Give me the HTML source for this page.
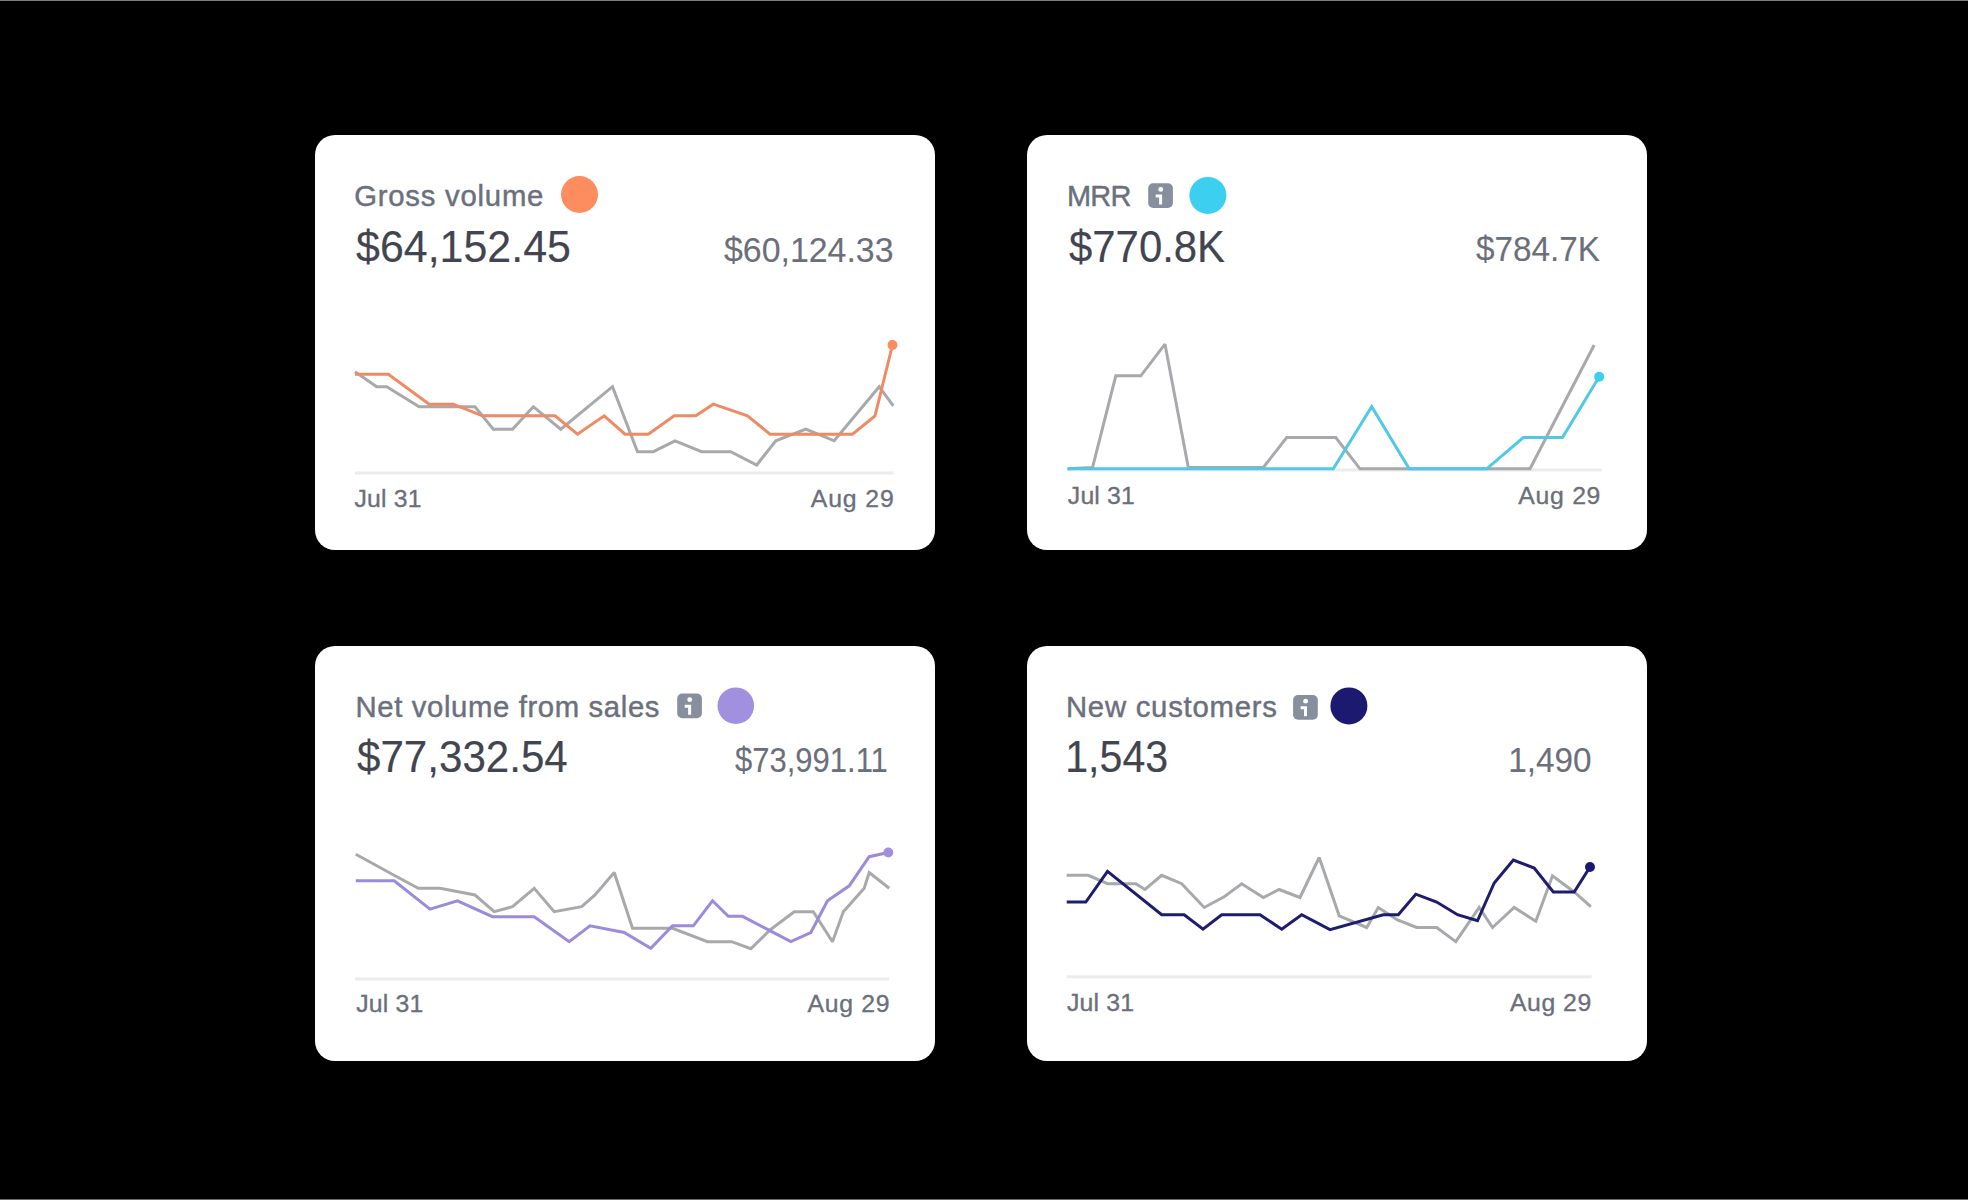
<!DOCTYPE html>
<html><head><meta charset="utf-8"><title>Dashboard charts</title>
<style>
html,body{margin:0;padding:0;}
body{width:1969px;height:1200px;background:#000;position:relative;overflow:hidden;font-family:"Liberation Sans", sans-serif;}
.edge-t{position:absolute;left:0;top:0;width:1969px;height:1px;background:#7c7c7c;}
.edge-b{position:absolute;left:0;top:1199px;width:1969px;height:1px;background:#6a6a6a;}
.edge-r{position:absolute;left:1968px;top:0;width:1px;height:1200px;background:#ffffff;}
.card{position:absolute;width:620px;height:415px;background:#fff;border-radius:20px;}
.t{position:absolute;white-space:nowrap;line-height:1;font-family:"Liberation Sans", sans-serif;-webkit-text-stroke:0.45px currentColor;}
.big{-webkit-text-stroke:0.15px currentColor;}
.sec{-webkit-text-stroke:0.1px currentColor;}
.lab{-webkit-text-stroke:0.35px currentColor;}
svg{position:absolute;left:0;top:0;}
</style></head>
<body>
<div class="edge-t"></div><div class="edge-b"></div><div class="edge-r"></div>
<div class="card" style="left:315px;top:135px"></div><div class="card" style="left:1027px;top:135px"></div><div class="card" style="left:315px;top:646px"></div><div class="card" style="left:1027px;top:646px"></div>
<svg width="1969" height="1200" viewBox="0 0 1969 1200">
<line x1="355" y1="473" x2="893.5" y2="473" stroke="#ebecec" stroke-width="3" stroke-linecap="butt"/>
<line x1="1067.5" y1="470" x2="1601.7" y2="470" stroke="#ebecec" stroke-width="3" stroke-linecap="butt"/>
<line x1="355" y1="979" x2="889" y2="979" stroke="#ebecec" stroke-width="3" stroke-linecap="butt"/>
<line x1="1066.7" y1="976.7" x2="1591.7" y2="976.7" stroke="#ebecec" stroke-width="3" stroke-linecap="butt"/>
<polyline points="355,371.7 376.7,386.7 386.7,386.7 419.2,406.7 475,406.7 493.3,429.2 512.5,429.2 533.3,406.7 560.8,429.2 612.5,386.7 637.5,451.7 653.3,451.7 675,440.8 701.7,451.7 730.8,451.7 756.7,465 775.8,440.8 805.8,429.2 834.2,440.8 879.2,386.7 893.3,405.8" fill="none" stroke="#a7a9ac" stroke-width="3" stroke-linejoin="miter" stroke-miterlimit="2"/>
<polyline points="355,374.2 388.3,374.2 429.2,404.2 453.3,404.2 482.5,415.8 555,415.8 577.5,434.2 604.2,415.8 625,434.2 648.3,434.2 674.2,415.8 695.8,415.8 713.3,404.2 747.5,415.8 770,434.2 852.5,434.2 875,415.8 892.5,345" fill="none" stroke="#ee8b64" stroke-width="3" stroke-linejoin="miter" stroke-miterlimit="2"/>
<circle cx="892.5" cy="345" r="5" fill="#fd8c5e"/>
<polyline points="1067.5,468.8 1092.5,467.5 1115.8,375.8 1140.8,375.8 1165,344.2 1188.3,467.5 1263.3,467.5 1286.7,437.5 1335.8,437.5 1360,468.8 1530,468.8 1594.2,345" fill="none" stroke="#a7a9ac" stroke-width="3" stroke-linejoin="miter" stroke-miterlimit="2"/>
<polyline points="1067.5,468.8 1333.3,468.8 1371.7,406.7 1409.2,468.8 1486.7,468.8 1523.3,437.5 1562.5,437.5 1599.2,376.7" fill="none" stroke="#50c8e6" stroke-width="3" stroke-linejoin="miter" stroke-miterlimit="2"/>
<circle cx="1599.2" cy="376.7" r="5" fill="#3dcff0"/>
<polyline points="355.8,854.2 395,875.8 418.3,888.3 440,888.3 475,895 494.2,911.7 512.5,906.7 534.2,888.3 554.2,911.7 581.7,906.7 595,895 614.2,872.5 632.5,928.3 672.5,928.3 707.5,941.7 731.7,941.7 750.8,948.7 770,930 794.2,911.7 813.3,911.7 832.5,941.7 843.3,911.7 864.2,888.3 869.2,872.5 889.2,888.3" fill="none" stroke="#a7a9ac" stroke-width="3" stroke-linejoin="miter" stroke-miterlimit="2"/>
<polyline points="355.8,880.8 394.2,880.8 430,909.2 457.5,900.8 492.5,916.7 534.2,916.7 569.2,941.7 590,925.8 624.2,932.5 650.8,948.3 672.5,925.8 693.3,925.8 712.5,900.8 728.3,916.3 742.5,916.3 790.8,941.7 810.8,932.5 827.5,900.8 849.2,885.8 869.2,856.7 888.3,852.5" fill="none" stroke="#9c8bdb" stroke-width="3" stroke-linejoin="miter" stroke-miterlimit="2"/>
<circle cx="888.3" cy="852.5" r="5" fill="#a190e0"/>
<polyline points="1066.7,875.3 1088.3,875.3 1107.5,883.7 1135.8,883.7 1145,889.5 1161.7,875.3 1181.7,883.7 1204.2,907.5 1224.2,896.7 1241.7,883.7 1263.3,897.5 1279.2,889.5 1300,897.5 1319.2,857.5 1339.2,915.8 1366.7,927.5 1378.3,907.5 1397.5,920 1416.7,927.5 1436.7,927.5 1455.8,941.7 1479.2,907.5 1492.5,927.5 1514.2,907.5 1535.8,921.3 1552.5,875.8 1574.2,892 1590.8,906.7" fill="none" stroke="#a7a9ac" stroke-width="3" stroke-linejoin="miter" stroke-miterlimit="2"/>
<polyline points="1066.7,902 1085.8,902 1107.5,871.3 1161.7,914.7 1184.2,914.7 1203,929.2 1221.7,914.7 1260,914.7 1281.7,929.2 1301.7,914.7 1330,929.7 1383.3,914.7 1398.3,914.7 1415.8,894.2 1436.7,902 1457.5,914.7 1477.5,920.8 1494.2,883 1513.3,860 1534.2,868 1553.3,892 1574.2,892 1590,867" fill="none" stroke="#1e1c6e" stroke-width="3" stroke-linejoin="miter" stroke-miterlimit="2"/>
<circle cx="1590" cy="867" r="5" fill="#1c1a70"/>
<circle cx="579.5" cy="194.5" r="18.5" fill="#fd8c5e"/>
<circle cx="1207.9" cy="195.4" r="18.5" fill="#3dcff0"/>
<circle cx="735.8" cy="705.7" r="18.3" fill="#a190e0"/>
<circle cx="1348.9" cy="705.9" r="18.5" fill="#1c1a70"/>
<g transform="translate(1148.2,183.2)"><rect x="0" y="0" width="24.7" height="24.7" rx="5" fill="#878f9e"/><circle cx="12.5" cy="6.2" r="2.4" fill="#fff"/><path d="M7.5 11.3H13.9V21.2H10.9V14.2H7.5Z" fill="#fff"/></g>
<g transform="translate(677.2,693.5)"><rect x="0" y="0" width="24.7" height="24.7" rx="5" fill="#878f9e"/><circle cx="12.5" cy="6.2" r="2.4" fill="#fff"/><path d="M7.5 11.3H13.9V21.2H10.9V14.2H7.5Z" fill="#fff"/></g>
<g transform="translate(1293.1,695)"><rect x="0" y="0" width="24.7" height="24.7" rx="5" fill="#878f9e"/><circle cx="12.5" cy="6.2" r="2.4" fill="#fff"/><path d="M7.5 11.3H13.9V21.2H10.9V14.2H7.5Z" fill="#fff"/></g>
</svg>
<div class="t" style="left:354.14px;top:181.10px;font-size:29.3px;letter-spacing:0.777px;color:#6b707c;">Gross volume</div>
<div class="t big" style="left:355.96px;top:225.08px;font-size:44.2px;letter-spacing:0.000px;color:#42454f;transform:scaleX(0.9717);transform-origin:0.44px 0;">$64,152.45</div>
<div class="t sec" style="left:724.04px;top:233.15px;font-size:35.5px;letter-spacing:0.000px;color:#6b6f7a;transform:scaleX(0.9538);transform-origin:0.35px 0;">$60,124.33</div>
<div class="t lab" style="left:354.50px;top:487.11px;font-size:24.8px;letter-spacing:0.184px;color:#6b6f7a;">Jul 31</div>
<div class="t lab" style="left:810.80px;top:487.01px;font-size:24.8px;letter-spacing:0.865px;color:#6b6f7a;">Aug 29</div>
<div class="t" style="left:1066.86px;top:181.30px;font-size:29.3px;letter-spacing:-0.800px;color:#6b707c;transform:scaleX(0.9885);transform-origin:2.34px 0;">MRR</div>
<div class="t big" style="left:1068.76px;top:225.28px;font-size:44.2px;letter-spacing:0.000px;color:#42454f;transform:scaleX(0.9478);transform-origin:0.44px 0;">$770.8K</div>
<div class="t sec" style="left:1476.44px;top:232.25px;font-size:35.5px;letter-spacing:0.000px;color:#6b6f7a;transform:scaleX(0.9380);transform-origin:0.35px 0;">$784.7K</div>
<div class="t lab" style="left:1067.80px;top:484.21px;font-size:24.8px;letter-spacing:0.184px;color:#6b6f7a;">Jul 31</div>
<div class="t lab" style="left:1518.30px;top:484.21px;font-size:24.8px;letter-spacing:0.705px;color:#6b6f7a;">Aug 29</div>
<div class="t" style="left:355.56px;top:692.10px;font-size:29.3px;letter-spacing:0.624px;color:#6b707c;">Net volume from sales</div>
<div class="t big" style="left:357.46px;top:734.88px;font-size:44.2px;letter-spacing:0.000px;color:#42454f;transform:scaleX(0.9529);transform-origin:0.44px 0;">$77,332.54</div>
<div class="t sec" style="left:735.14px;top:742.65px;font-size:35.5px;letter-spacing:0.000px;color:#6b6f7a;transform:scaleX(0.8728);transform-origin:0.35px 0;">$73,991.11</div>
<div class="t lab" style="left:356.20px;top:991.91px;font-size:24.8px;letter-spacing:0.184px;color:#6b6f7a;">Jul 31</div>
<div class="t lab" style="left:807.50px;top:991.91px;font-size:24.8px;letter-spacing:0.685px;color:#6b6f7a;">Aug 29</div>
<div class="t" style="left:1065.96px;top:692.10px;font-size:29.3px;letter-spacing:0.753px;color:#6b707c;">New customers</div>
<div class="t big" style="left:1064.76px;top:734.88px;font-size:44.2px;letter-spacing:0.000px;color:#42454f;transform:scaleX(0.9306);transform-origin:3.54px 0;">1,543</div>
<div class="t sec" style="left:1508.16px;top:743.15px;font-size:35.5px;letter-spacing:0.000px;color:#6b6f7a;transform:scaleX(0.9386);transform-origin:2.84px 0;">1,490</div>
<div class="t lab" style="left:1067.00px;top:990.51px;font-size:24.8px;letter-spacing:0.184px;color:#6b6f7a;">Jul 31</div>
<div class="t lab" style="left:1510.00px;top:990.51px;font-size:24.8px;letter-spacing:0.525px;color:#6b6f7a;">Aug 29</div>
</body></html>
